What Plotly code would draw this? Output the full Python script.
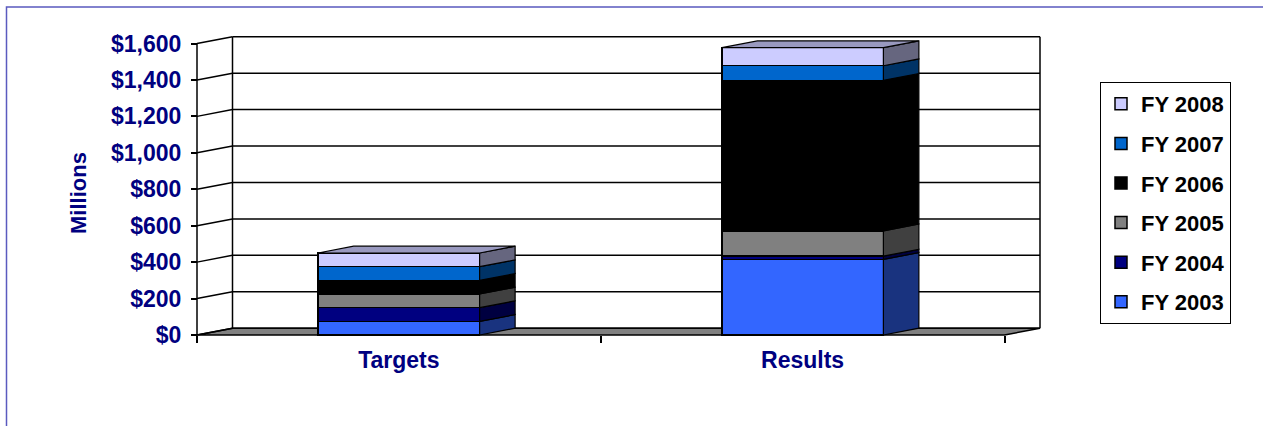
import plotly.graph_objects as go

# ---------------- data ----------------
CATEGORIES = ["Targets", "Results"]
SERIES = ["FY 2003", "FY 2004", "FY 2005", "FY 2006", "FY 2007", "FY 2008"]
FY2003 = [75, 415]
FY2004 = [75, 18]
FY2005 = [75, 139]
FY2006 = [75, 826]
FY2007 = [75, 80]
FY2008 = [75, 99]
VALUES = [FY2003, FY2004, FY2005, FY2006, FY2007, FY2008]
Y_TICKS = [0, 200, 400, 600, 800, 1000, 1200, 1400, 1600]
Y_TICK_LABELS = ["$0", "$200", "$400", "$600", "$800", "$1,000", "$1,200", "$1,400", "$1,600"]
COLORS = ["#3366FF", "#000080", "#808080", "#000000", "#0066CC", "#CCCCFF"]

# ---------------- layout geometry ----------------
W, H = 1263, 426
FRONT_LEFT, FRONT_RIGHT = 197.0, 1004.5
ZERO_PX, TOP_PX = 335.0, 43.5
YTOP = Y_TICKS[-1]
ncat = len(CATEGORIES)
pxx = (FRONT_RIGHT - FRONT_LEFT) / ncat
pxy = (ZERO_PX - TOP_PX) / YTOP
DX = 35.5 / pxx          # depth offset in x units
DY = 6.8 / pxy           # depth offset in value units
BAR_W = 0.4
PAD = 4
X0, X1 = -0.5, ncat - 0.5

plot_left = round(FRONT_LEFT - PAD)
plot_right = round(FRONT_LEFT + (X1 - X0 + DX) * pxx + PAD)
plot_bottom = round(ZERO_PX + PAD)
plot_top = round(ZERO_PX - (YTOP + DY) * pxy - PAD)
XMIN = X0 - (FRONT_LEFT - plot_left) / pxx
XMAX = X0 + (plot_right - FRONT_LEFT) / pxx
YMIN = -(plot_bottom - ZERO_PX) / pxy
YMAX = (ZERO_PX - plot_top) / pxy


def pxp(px):
    return (px - plot_left) / (plot_right - plot_left)


def pyp(py):
    return (plot_bottom - py) / (plot_bottom - plot_top)


def shade(hexcol, f):
    h = hexcol.lstrip("#")
    r, g, b = (int(h[i:i + 2], 16) for i in (0, 2, 4))
    return "#%02x%02x%02x" % (int(r * f), int(g * f), int(b * f))


FONT = "Liberation Sans, Arial, sans-serif"
NAVY = "#000080"

fig = go.Figure()

# front faces of stacked bars
xs = list(range(ncat))
nser = len(SERIES)
for i, (name, vals, col) in enumerate(zip(SERIES, VALUES, COLORS)):
    fig.add_trace(go.Bar(
        x=xs, y=vals, width=BAR_W, name=name, legendgroup=name,
        legendrank=nser - i,
        marker=dict(color=col, line=dict(color="black", width=1.5)),
        hoverinfo="skip",
    ))

# side and top faces
for j in range(ncat):
    base = 0
    xr = j + BAR_W / 2
    xl = j - BAR_W / 2
    for vals, col in zip(VALUES, COLORS):
        top = base + vals[j]
        fig.add_trace(go.Scatter(
            x=[xr, xr, xr + DX, xr + DX, xr],
            y=[base, top, top + DY, base + DY, base],
            fill="toself", fillcolor=shade(col, 0.5), mode="lines",
            line=dict(color="black", width=1.2), showlegend=False, hoverinfo="skip",
        ))
        base = top
    fig.add_trace(go.Scatter(
        x=[xl, xr, xr + DX, xl + DX, xl],
        y=[base, base, base + DY, base + DY, base],
        fill="toself", fillcolor=shade(COLORS[-1], 0.75), mode="lines",
        line=dict(color="black", width=1.2), showlegend=False, hoverinfo="skip",
    ))

# walls, floor and gridlines
shapes = []
shapes.append(dict(
    type="path", xref="x", yref="y", layer="below",
    path=f"M {X0},0 L {X1},0 L {X1 + DX},{DY} L {X0 + DX},{DY} Z",
    fillcolor="#808080", line=dict(color="black", width=1.5),
))
LINE = dict(color="black", width=1.5)
for v in Y_TICKS:
    shapes.append(dict(type="line", xref="x", yref="y", layer="below",
                       x0=X0, y0=v, x1=X0 + DX, y1=v + DY, line=LINE))
    shapes.append(dict(type="line", xref="x", yref="y", layer="below",
                       x0=X0 + DX, y0=v + DY, x1=X1 + DX, y1=v + DY, line=LINE))
for (xa, ya, yb) in [(X0, 0, YTOP), (X0 + DX, DY, YTOP + DY), (X1 + DX, DY, YTOP + DY)]:
    shapes.append(dict(type="line", xref="x", yref="y", layer="below",
                       x0=xa, y0=ya, x1=xa, y1=yb, line=LINE))
# chart-area border
shapes.append(dict(type="rect", xref="paper", yref="paper", layer="above",
                   x0=pxp(6.5), x1=pxp(W + 50), y0=pyp(H + 50), y1=pyp(7),
                   line=dict(color="#5a5abf", width=1.5), fillcolor="rgba(0,0,0,0)"))

fig.update_layout(
    width=W, height=H,
    margin=dict(l=plot_left, r=W - plot_right, t=plot_top, b=H - plot_bottom, pad=0),
    paper_bgcolor="white", plot_bgcolor="white",
    barmode="stack",
    shapes=shapes,
    xaxis=dict(
        range=[XMIN, XMAX], anchor="free", position=pyp(ZERO_PX),
        tickmode="array", tickvals=xs, ticktext=CATEGORIES, ticks="",
        minor=dict(tickmode="array", tickvals=[k - 0.5 for k in range(ncat + 1)],
                   ticks="outside", ticklen=7, tickwidth=1.5, tickcolor="black"),
        showgrid=False, zeroline=False, showline=False,
        tickfont=dict(family=FONT, size=23, color=NAVY, weight="bold"),
        ticklabelstandoff=9,
    ),
    yaxis=dict(
        range=[YMIN, YMAX], anchor="free", position=pxp(FRONT_LEFT),
        tickmode="array", tickvals=Y_TICKS, ticktext=Y_TICK_LABELS,
        ticks="outside", ticklen=6, tickwidth=1.5, tickcolor="black",
        showgrid=False, zeroline=False, showline=False,
        tickfont=dict(family=FONT, size=23, color=NAVY, weight="bold"),
        ticklabelstandoff=5,
    ),
    legend=dict(
        x=pxp(1100), y=pyp(82), xanchor="left", yanchor="top",
        bordercolor="black", borderwidth=1, bgcolor="white",
        font=dict(family=FONT, size=22, color="black", weight="bold"),
        traceorder="grouped", tracegroupgap=8,
    ),
    annotations=[dict(
        text="Millions", xref="paper", yref="paper", x=pxp(79), y=pyp(193),
        xanchor="center", yanchor="middle", textangle=-90, showarrow=False,
        font=dict(family=FONT, size=22, color=NAVY, weight="bold"),
    )],
    showlegend=True,
)

fig.write_html("out.html")
